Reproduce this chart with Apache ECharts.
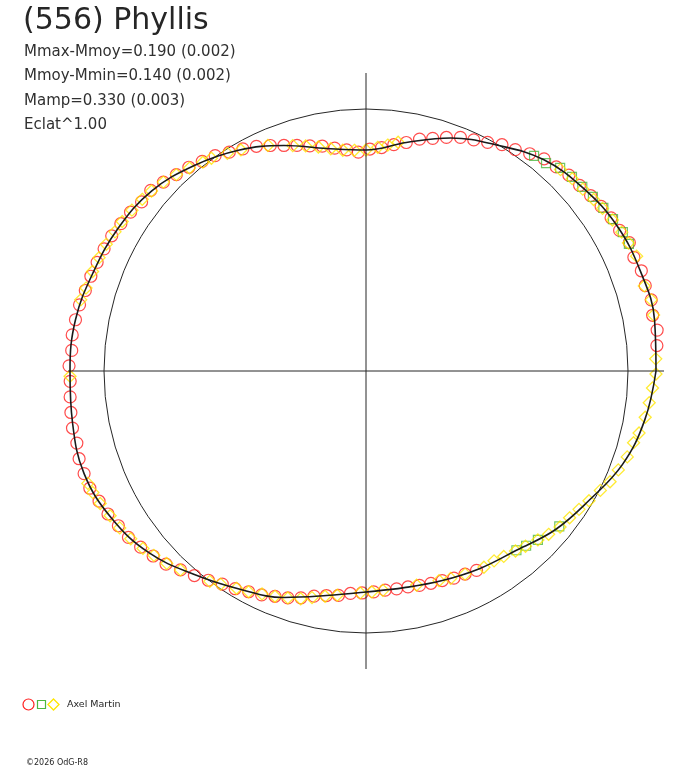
<!DOCTYPE html>
<html>
<head>
<meta charset="utf-8">
<script src="https://cdn.jsdelivr.net/npm/echarts@6/dist/echarts.min.js"></script>
<style>
  html, body { margin: 0; padding: 0; background: #fff; }
  #chart { width: 688px; height: 768px; }
</style>
</head>
<body>
<div id="chart"></div>
<script>
// polar light curve: [phase angle in degrees, radius]; the reference circle sits at radius 262
var refRadius = 262;
var crossRadius = 298;
var outerRadius = 302;

// fitted curve, every 10 degrees
var fitAngles = [0, 10, 20, 30, 40, 50, 60, 70, 80, 90, 100, 110, 120, 130, 140, 150, 160, 170,
                 180, 190, 200, 210, 220, 230, 240, 250, 260, 270, 280, 290, 300, 310, 320, 330, 340, 350, 360];
var fitRadius = [290, 293, 292, 290, 284, 276, 261, 248, 232, 221, 226, 240, 255, 268, 280, 286, 290, 295,
                 296, 298, 300, 294, 283, 266, 252, 241, 228, 221, 220, 223, 228, 234, 247, 258, 273, 283, 290];

var redPoints = [
  [5, 292], [8, 294], [11, 292], [14, 294], [17, 292], [20, 293], [23, 291], [26, 293], [29, 290],
  [32, 289], [35, 287], [38, 285], [41, 283], [44, 282], [47, 279], [50, 277], [53, 272], [56, 267],
  [59, 264], [62, 259], [65, 255], [68, 252], [71, 247], [74, 242], [77, 238], [80, 232], [83, 228],
  [86, 224], [89, 222], [92, 219], [95, 222], [98, 225], [101, 229], [104, 232], [107, 236], [110, 240],
  [113, 245], [116, 250], [119, 254], [122, 258], [125, 263], [128, 266], [131, 270], [134, 273],
  [137, 277], [140, 281], [143, 281], [146, 284], [149, 286], [152, 288], [155, 289], [158, 290],
  [161, 291], [164, 292], [167, 294], [170, 295], [173, 296], [176, 295], [179, 297], [182, 296],
  [185, 297], [188, 298], [191, 299], [194, 298], [197, 300], [200, 300], [203, 300], [206, 297],
  [209, 295], [212, 292], [215, 290], [218, 286], [221, 282], [224, 278], [227, 272], [230, 267],
  [233, 262], [236, 257], [239, 254], [242, 250], [245, 247], [248, 243], [251, 240], [254, 236],
  [257, 231], [260, 228], [263, 226], [266, 223], [269, 222], [272, 221], [275, 220], [278, 220],
  [281, 220], [284, 221], [287, 222], [290, 223], [293, 225], [296, 226], [299, 228]
];

var greenPoints = [
  [25.8, 292], [28.4, 292], [31.6, 290], [34.5, 288], [37.5, 286], [40.4, 284], [43.3, 283],
  [46.3, 281], [49.1, 275], [52, 273], [310, 234], [312.5, 237], [315.5, 241], [321.2, 248]
];

var yellowPoints = [
  [11, 293], [14, 294], [17, 291], [23, 294], [26, 292], [28.5, 291], [31.5, 289], [34.5, 287],
  [37, 285], [40, 283], [43, 282], [46, 280],
  [82, 231], [84.5, 227], [87, 224], [90, 221], [93, 221], [96, 222], [99, 225], [102, 229],
  [105, 233], [108, 237], [113.5, 246], [119.5, 254], [122.5, 258], [126, 263], [128, 265],
  [131, 269], [134, 273], [137, 277], [140, 280], [142.5, 282], [145.5, 284], [148.5, 286],
  [151, 287], [154, 289], [157, 290], [160, 291], [163.5, 292], [166, 294],
  [181, 296],
  [202, 300], [204, 299], [206.5, 297], [209.5, 294], [212.5, 292], [215.5, 289], [218.5, 285],
  [221, 281], [224, 277], [227, 272], [233.4, 262], [235.7, 258], [239.2, 253], [242, 250],
  [245, 246], [248, 243], [251, 240], [254, 237], [256.6, 233], [259.7, 229], [262.7, 226],
  [268.5, 222], [271.5, 221], [274.4, 220], [283.3, 220], [289.2, 222], [292.2, 224],
  [296, 226], [301, 229], [304, 229], [306.6, 231], [309.7, 234], [312.3, 237], [315.5, 241],
  [318.2, 245], [321.2, 249], [324.2, 251], [327, 254], [329.8, 258], [333, 263], [335.6, 268],
  [338.6, 271], [341.8, 275], [345, 277], [347.2, 280], [350.6, 283], [353.6, 285], [356.6, 287],
  [359.4, 290], [2.4, 290]
];

var titleText = '(556) Phyllis';
var statLines = ['Mmax-Mmoy=0.190 (0.002)', 'Mmoy-Mmin=0.140 (0.002)', 'Mamp=0.330 (0.003)', 'Eclat^1.00'];
var observer = 'Axel Martin';
var copyright = '\u00a92026 OdG-R8';

var RED = '#ff1f1f', GREEN = '#4cb840', YELLOW = '#ffe600', INK = '#262626';
var FONT = 'DejaVu Sans, Liberation Sans, sans-serif';

function toPolar(list) {
  return list.map(function (p) { return [p[1], p[0]]; });
}

var fitData = [];
for (var i = 0; i < fitAngles.length; i++) fitData.push([fitRadius[i], fitAngles[i]]);

var textItems = [
  { type: 'text', x: 23, y: 21, style: { text: titleText, fontFamily: FONT, fontSize: 30, fill: INK, verticalAlign: 'middle' } }
];
statLines.forEach(function (s, k) {
  textItems.push({ type: 'text', x: 24, y: 52 + k * 24.5,
    style: { text: s, fontFamily: FONT, fontSize: 15, fill: '#303030', verticalAlign: 'middle' } });
});

var chart = echarts.init(document.getElementById('chart'));

chart.setOption({
  animation: false,
  backgroundColor: '#fff',
  polar: { center: [366, 371], radius: outerRadius },
  angleAxis: {
    type: 'value', min: 0, max: 360, startAngle: 0, clockwise: false,
    axisLine: { show: false }, axisTick: { show: false },
    axisLabel: { show: false }, splitLine: { show: false }
  },
  radiusAxis: {
    // ticks at 0, 262 and 302: only the middle one is drawn as the mean circle
    type: 'value', min: 0, max: outerRadius, interval: refRadius,
    axisLine: { show: false }, axisTick: { show: false }, axisLabel: { show: false },
    splitLine: { show: true, lineStyle: { color: ['rgba(0,0,0,0)', INK, 'rgba(0,0,0,0)'], width: 1 } }
  },
  series: [
    {
      type: 'line', coordinateSystem: 'polar', symbol: 'none', silent: true,
      data: [[crossRadius, 0], [crossRadius, 180]],
      lineStyle: { color: INK, width: 1 }
    },
    {
      type: 'line', coordinateSystem: 'polar', symbol: 'none', silent: true,
      data: [[crossRadius, 90], [crossRadius, 270]],
      lineStyle: { color: INK, width: 1 }
    },
    {
      name: 'red', type: 'scatter', coordinateSystem: 'polar',
      symbol: 'circle', symbolSize: 12, data: toPolar(redPoints),
      itemStyle: { color: 'rgba(0,0,0,0)', borderColor: RED, borderWidth: 1.2 }
    },
    {
      name: 'green', type: 'scatter', coordinateSystem: 'polar',
      symbol: 'rect', symbolSize: 9, data: toPolar(greenPoints),
      itemStyle: { color: 'rgba(0,0,0,0)', borderColor: GREEN, borderWidth: 1.2 }
    },
    {
      name: 'yellow', type: 'scatter', coordinateSystem: 'polar',
      symbol: 'diamond', symbolSize: 12, data: toPolar(yellowPoints),
      itemStyle: { color: 'rgba(0,0,0,0)', borderColor: YELLOW, borderWidth: 1.3 }
    },
    {
      type: 'line', coordinateSystem: 'polar', symbol: 'none', smooth: 0.4,
      silent: true, z: 5, data: fitData,
      lineStyle: { color: '#1a1a1a', width: 1.6 }
    }
  ],
  graphic: textItems.concat([
    { type: 'circle', shape: { cx: 28.5, cy: 704.5, r: 5.5 }, style: { fill: 'none', stroke: RED, lineWidth: 1.2 } },
    { type: 'rect', shape: { x: 37.5, y: 700.5, width: 8, height: 8 }, style: { fill: 'none', stroke: GREEN, lineWidth: 1.2 } },
    { type: 'polygon', shape: { points: [[53.5, 699], [59, 704.5], [53.5, 710], [48, 704.5]] }, style: { fill: 'none', stroke: YELLOW, lineWidth: 1.3 } },
    { type: 'text', x: 67, y: 705, style: { text: observer, fontFamily: FONT, fontSize: 9.5, fill: INK, verticalAlign: 'middle' } },
    { type: 'text', x: 26, y: 763, style: { text: copyright, fontFamily: FONT, fontSize: 8, fill: INK, verticalAlign: 'middle' } }
  ])
});
</script>
</body>
</html>
